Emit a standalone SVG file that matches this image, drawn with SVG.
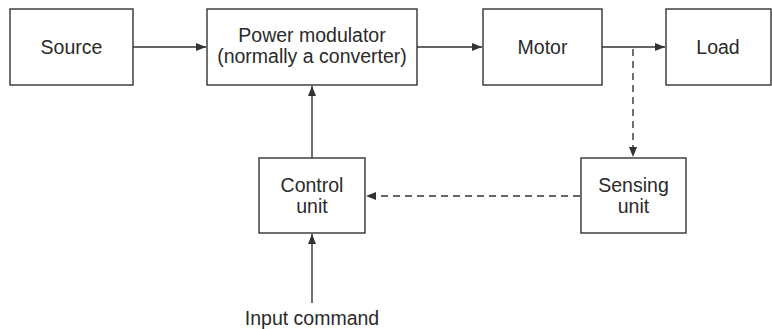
<svg xmlns="http://www.w3.org/2000/svg" width="772" height="329" viewBox="0 0 772 329">
<style>
.box{fill:#fff;stroke:#333;stroke-width:1.4}
.t{font-family:"Liberation Sans",Arial,sans-serif;font-size:19.5px;fill:#2a2a2a;text-anchor:middle}
.ln{fill:none;stroke:#333;stroke-width:1.4}
.dash{stroke-dasharray:7 5}
</style>
<defs>
<marker id="ah" viewBox="0 0 10 8" refX="10" refY="4" markerWidth="10" markerHeight="8" markerUnits="userSpaceOnUse" orient="auto">
<path d="M0,0 L10,4 L0,8 z" fill="#333"/>
</marker>
</defs>
<rect width="772" height="329" fill="#fff"/>
<g id="connectors">
<line class="ln" x1="133" y1="47" x2="206" y2="47" marker-end="url(#ah)"/>
<line class="ln" x1="417" y1="47" x2="482" y2="47" marker-end="url(#ah)"/>
<line class="ln" x1="602" y1="47" x2="665" y2="47" marker-end="url(#ah)"/>
<line class="ln dash" x1="633" y1="49" x2="633" y2="157" marker-end="url(#ah)"/>
<line class="ln dash" x1="580" y1="196" x2="366" y2="196" marker-end="url(#ah)"/>
<line class="ln" x1="312" y1="158" x2="312" y2="86" marker-end="url(#ah)"/>
<line class="ln" x1="312" y1="303" x2="312" y2="234" marker-end="url(#ah)"/>
</g>
<g id="source"><rect class="box" x="10" y="9" width="123" height="76"/><text class="t" x="71.5" y="54">Source</text></g>
<g id="power-modulator"><rect class="box" x="207" y="9" width="210" height="76"/><text class="t" x="312" y="42">Power modulator</text><text class="t" x="312" y="63">(normally a converter)</text></g>
<g id="motor"><rect class="box" x="483" y="9" width="119" height="76"/><text class="t" x="542.5" y="54">Motor</text></g>
<g id="load"><rect class="box" x="666" y="9" width="105" height="76"/><text class="t" x="718" y="54">Load</text></g>
<g id="control-unit"><rect class="box" x="259" y="158" width="106" height="75"/><text class="t" x="312" y="192">Control</text><text class="t" x="312" y="213">unit</text></g>
<g id="sensing-unit"><rect class="box" x="581" y="158" width="105" height="75"/><text class="t" x="633.5" y="192">Sensing</text><text class="t" x="633.5" y="213">unit</text></g>
<g id="input-command"><text class="t" x="312" y="325">Input command</text></g>
</svg>
